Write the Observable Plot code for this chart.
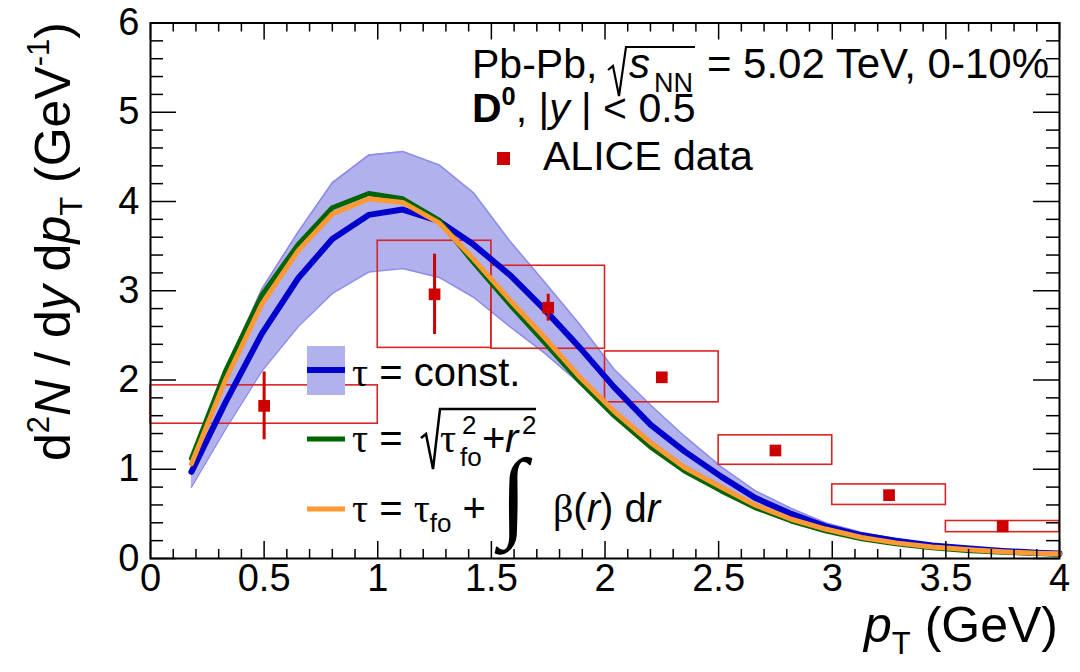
<!DOCTYPE html>
<html>
<head>
<meta charset="utf-8">
<script src="https://cdn.jsdelivr.net/npm/d3@7"></script>
<script src="https://cdn.jsdelivr.net/npm/@observablehq/plot@0.6"></script>
<style>
  html, body { margin: 0; padding: 0; background: #fff; }
  #chart svg { display: block; }
  text { white-space: pre; }
</style>
</head>
<body>
<div id="chart"></div>
<script>
// ---------- data ----------
const pT = [0.18,0.33,0.49,0.65,0.80,0.96,1.11,1.27,1.42,1.58,1.73,1.89,2.04,2.20,2.35,2.51,2.66,2.82,2.97,3.13,3.28,3.44,3.59,3.75,3.90,4.00];
const constCentral = [0.97,1.75,2.52,3.14,3.58,3.85,3.91,3.78,3.52,3.18,2.80,2.36,1.92,1.50,1.20,0.92,0.68,0.50,0.36,0.26,0.20,0.145,0.115,0.085,0.065,0.055];
const constUpper   = [1.06,2.12,3.02,3.66,4.21,4.52,4.56,4.41,4.10,3.56,3.11,2.62,2.12,1.72,1.37,1.03,0.76,0.56,0.40,0.29,0.22,0.16,0.12,0.09,0.07,0.06];
const constLower   = [0.80,1.45,2.10,2.60,2.97,3.21,3.25,3.15,2.93,2.60,2.31,1.96,1.66,1.32,1.04,0.82,0.61,0.45,0.33,0.24,0.18,0.13,0.10,0.075,0.058,0.05];
const sqrtTau      = [1.12,2.10,2.95,3.52,3.93,4.09,4.03,3.79,3.32,2.85,2.43,1.98,1.60,1.25,0.98,0.76,0.57,0.42,0.31,0.22,0.165,0.12,0.09,0.07,0.055,0.048];
const intTau       = [1.06,2.00,2.85,3.45,3.86,4.03,3.99,3.76,3.36,2.90,2.49,2.03,1.65,1.30,1.02,0.80,0.60,0.44,0.33,0.235,0.175,0.13,0.10,0.075,0.06,0.052];

const dataPt   = [0.5, 1.25, 1.75, 2.25, 2.75, 3.25, 3.75];
const dataY    = [1.71, 2.96, 2.81, 2.03, 1.21, 0.71, 0.36];
const statErr  = [0.38, 0.45, 0.15, 0.03, 0.02, 0.01, 0.01];
const binLow   = [0.0, 1.0, 1.5, 2.0, 2.5, 3.0, 3.5];
const binHigh  = [1.0, 1.5, 2.0, 2.5, 3.0, 3.5, 4.0];
const sysLow   = [1.51, 2.36, 2.35, 1.75, 1.05, 0.60, 0.295];
const sysHigh  = [1.94, 3.56, 3.28, 2.32, 1.38, 0.83, 0.42];

const xTickLabels = [0, 0.5, 1, 1.5, 2, 2.5, 3, 3.5, 4];
const yTickLabels = [0, 1, 2, 3, 4, 5, 6];

// ---------- layout ----------
const W = 1080, H = 672;
const mL = 150, mR = 21, mT = 22.5, mB = 114;
const FONT = "'Liberation Sans', Arial, Helvetica, sans-serif";
const SERIF = "'Liberation Serif', 'Times New Roman', serif";
const pxX = 4 / (W - mL - mR);      // data units per px horizontally
const pxY = 6 / (H - mT - mB);      // data units per px vertically

const curves = pT.map((x, i) => ({x, c: constCentral[i], hi: constUpper[i], lo: constLower[i], g: sqrtTau[i], o: intTau[i]}));
const pts = dataPt.map((x, i) => ({x, y: dataY[i], e: statErr[i], x1: binLow[i], x2: binHigh[i], s1: sysLow[i], s2: sysHigh[i]}));

const xMinor = d3.range(0, 4.0001, 0.1).map(v => +v.toFixed(2)).filter(v => !xTickLabels.some(t => Math.abs(t - v) < 1e-6));
const yMinor = d3.range(0, 6.0001, 0.2).map(v => +v.toFixed(2)).filter(v => !yTickLabels.some(t => Math.abs(t - v) < 1e-6));

const xMajLen = 17 * pxY, xMinLen = 9 * pxY;
const yMajLen = 26 * pxX, yMinLen = 13 * pxX;

const plot = Plot.plot({
  width: W, height: H,
  marginLeft: mL, marginRight: mR, marginTop: mT, marginBottom: mB,
  x: {domain: [0, 4]},
  y: {domain: [0, 6]},
  style: {fontFamily: FONT, background: "white", color: "black"},
  marks: [
    // band
    Plot.areaY(curves, {x: "x", y1: "lo", y2: "hi", fill: "#b1b1ee"}),
    Plot.line(curves, {x: "x", y: "hi", stroke: "#8d8de6", strokeWidth: 1.6}),
    Plot.line(curves, {x: "x", y: "lo", stroke: "#8d8de6", strokeWidth: 1.6}),
    // systematic boxes
    Plot.rect(pts, {x1: "x1", x2: "x2", y1: "s1", y2: "s2", fill: "none", stroke: "#d82424", strokeWidth: 1.6}),
    // model curves
    Plot.line(curves, {x: "x", y: "c", stroke: "#0000cc", strokeWidth: 6}),
    Plot.line(curves, {x: "x", y: "g", stroke: "#006400", strokeWidth: 5}),
    Plot.line(curves, {x: "x", y: "o", stroke: "#ff9933", strokeWidth: 5}),
    // stat errors and data
    Plot.ruleX(pts, {x: "x", y1: d => d.y - d.e, y2: d => d.y + d.e, stroke: "#cc0000", strokeWidth: 3}),
    Plot.dot(pts, {x: "x", y: "y", symbol: "square", r: 6.6, fill: "#cc0000", stroke: "none"}),
    // ticks (inside, all four sides)
    Plot.ruleX(xTickLabels, {x: d => d, y1: 0, y2: xMajLen, stroke: "black", strokeWidth: 1.5}),
    Plot.ruleX(xMinor, {x: d => d, y1: 0, y2: xMinLen, stroke: "black", strokeWidth: 1.5}),
    Plot.ruleX(xTickLabels, {x: d => d, y1: 6 - xMajLen, y2: 6, stroke: "black", strokeWidth: 1.5}),
    Plot.ruleX(xMinor, {x: d => d, y1: 6 - xMinLen, y2: 6, stroke: "black", strokeWidth: 1.5}),
    Plot.ruleY(yTickLabels, {y: d => d, x1: 0, x2: yMajLen, stroke: "black", strokeWidth: 1.5}),
    Plot.ruleY(yMinor, {y: d => d, x1: 0, x2: yMinLen, stroke: "black", strokeWidth: 1.5}),
    Plot.ruleY(yTickLabels, {y: d => d, x1: 4 - yMajLen, x2: 4, stroke: "black", strokeWidth: 1.5}),
    Plot.ruleY(yMinor, {y: d => d, x1: 4 - yMinLen, x2: 4, stroke: "black", strokeWidth: 1.5}),
    Plot.frame({stroke: "black", strokeWidth: 2}),
    Plot.axisX({ticks: xTickLabels, tickSize: 0, tickPadding: 6, fontSize: 38, label: null, tickFormat: d => String(d)}),
    Plot.axisY({ticks: yTickLabels, tickSize: 0, tickPadding: 11, fontSize: 38, label: null, tickFormat: d => String(d)})
  ]
});
document.getElementById("chart").appendChild(plot);

// ---------- rich text helpers ----------
const svg = d3.select(plot);

function rich(x, y, size, anchor, parts, rot) {
  const t = svg.append("text")
    .attr("transform", `translate(${x},${y})` + (rot ? ` rotate(${rot})` : ""))
    .attr("text-anchor", anchor)
    .attr("font-size", size)
    .attr("font-family", FONT)
    .attr("fill", "black");
  let cur = 0;
  for (const p of parts) {
    const ts = t.append("tspan").text(p.t);
    let target = 0;
    if (p.sup) target = -size * 0.42;
    if (p.sub) target = size * 0.24;
    if (target - cur !== 0) ts.attr("dy", target - cur);
    cur = target;
    if (p.sup || p.sub) ts.attr("font-size", size * (p.scale || 0.62));
    if (p.i) ts.attr("font-style", "italic");
    if (p.b) ts.attr("font-weight", "bold");
    if (p.f) ts.attr("font-family", p.f);
    if (p.dx) ts.attr("dx", p.dx);
  }
  return t;
}
function txt(x, y, size, s, opts = {}) {
  const t = svg.append("text").attr("x", x).attr("y", y).attr("font-size", size)
    .attr("font-family", opts.f || FONT).attr("text-anchor", opts.anchor || "start").attr("fill", "black").text(s);
  if (opts.i) t.attr("font-style", "italic");
  if (opts.b) t.attr("font-weight", "bold");
  return t;
}

// axis titles
rich(70, 22, 50, "end", [
  {t: "d"}, {t: "2", sup: true}, {t: "N", i: true}, {t: " / d"}, {t: "y", i: true},
  {t: " d"}, {t: "p", i: true}, {t: "T", sub: true}, {t: " (GeV"}, {t: "-1", sup: true}, {t: ")"}
], -90);
rich(1058, 642, 50, "end", [{t: "p", i: true}, {t: "T", sub: true}, {t: " (GeV)"}]);

// top-right annotation
txt(472, 78, 41, "Pb-Pb,");
svg.append("path").attr("d", "M608,70 L613,66 L619,96 L626,47 L695,47").attr("fill", "none").attr("stroke", "black").attr("stroke-width", 2.2);
txt(629, 78, 42, "s", {i: true});
txt(654, 92, 27, "NN");
txt(1049, 78, 42, "= 5.02 TeV, 0-10%", {anchor: "end"});
rich(472, 122, 41, "start", [
  {t: "D", b: true}, {t: "0", sup: true, b: true}, {t: ", |"}, {t: "y", i: true}, {t: " | < 0.5"}
]);
svg.append("rect").attr("x", 497).attr("y", 152).attr("width", 13).attr("height", 13).attr("fill", "#cc0000");
txt(543, 170, 41, "ALICE data");

// legend
svg.append("rect").attr("x", 307).attr("y", 346).attr("width", 38).attr("height", 49).attr("fill", "#b1b1ee");
svg.append("line").attr("x1", 307).attr("x2", 345).attr("y1", 370).attr("y2", 370).attr("stroke", "#0000cc").attr("stroke-width", 6);
rich(352, 386, 40, "start", [{t: "τ", f: SERIF}, {t: " = const."}]);

svg.append("line").attr("x1", 307).attr("x2", 345).attr("y1", 439).attr("y2", 439).attr("stroke", "#006400").attr("stroke-width", 5);
rich(352, 452, 40, "start", [{t: "τ", f: SERIF}, {t: " ="}]);
svg.append("path").attr("d", "M421,438 L426,434 L433,469 L440,409 L536,409").attr("fill", "none").attr("stroke", "black").attr("stroke-width", 2.5);
txt(440, 452, 40, "τ", {f: SERIF});
txt(462, 434, 26, "2");
txt(460, 466, 26, "fo");
txt(482, 452, 40, "+");
txt(505, 452, 40, "r", {i: true});
txt(522, 434, 26, "2");

svg.append("line").attr("x1", 307).attr("x2", 345).attr("y1", 509).attr("y2", 509).attr("stroke", "#ff9933").attr("stroke-width", 5);
rich(352, 522, 40, "start", [{t: "τ", f: SERIF}, {t: " = "}, {t: "τ", f: SERIF}, {t: "fo", sub: true, scale: 0.65}, {t: " +"}]);
txt(500, 528, 100, "∫", {f: SERIF, b: true});
rich(553, 522, 40, "start", [{t: "β", f: SERIF}, {t: "("}, {t: "r", i: true}, {t: ") d"}, {t: "r", i: true}]);
</script>
</body>
</html>
